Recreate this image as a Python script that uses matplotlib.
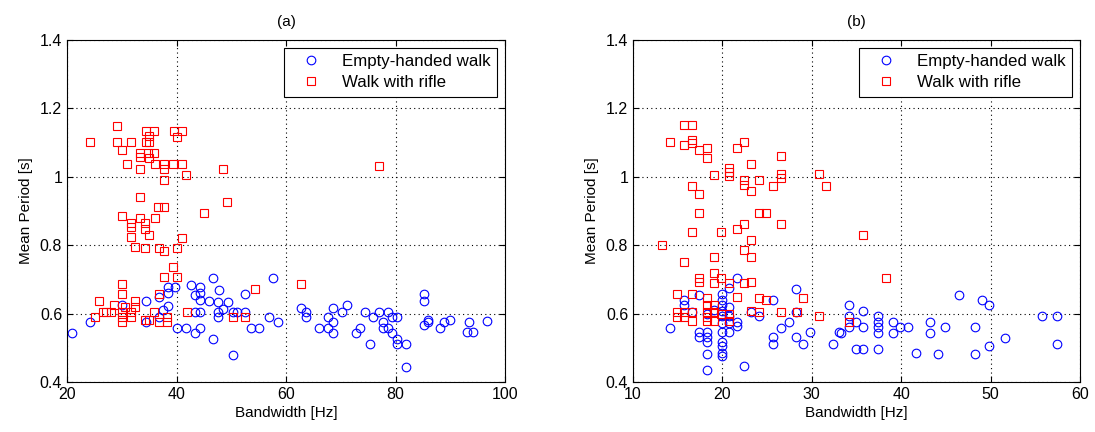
import matplotlib
matplotlib.use("Agg")
import matplotlib.pyplot as plt
import numpy as np

plt.rcParams['font.family'] = ['Liberation Sans', 'DejaVu Sans']

# ---------------- data: panel (a) ----------------
a_empty_bw = [20.9, 24.2, 30.1, 34.4, 34.4, 36.8, 36.8, 38.5, 38.5, 38.5, 37.6, 39.7, 40.0, 41.7,
              42.6, 43.4, 44.3, 44.3, 44.3, 43.4, 44.3, 43.4, 44.3, 46.0, 46.7, 47.8, 46.7, 47.6,
              47.6, 47.6, 48.5, 49.4, 50.3, 51.0, 50.3, 52.6, 52.6, 53.6, 55.1, 57.6, 56.9, 58.6,
              62.7, 63.6, 63.6, 66.0, 67.7, 67.7, 68.5, 68.5, 68.5, 70.2, 71.1, 72.7, 73.5, 74.4,
              75.3, 75.9, 77.0, 77.8, 77.7, 78.6, 78.6, 79.3, 80.3, 79.3, 80.3, 80.3, 82.0, 82.0,
              85.2, 85.2, 86.0, 86.0, 85.2, 88.1, 88.8, 90.0, 93.0, 93.5, 94.2, 96.8]
a_empty_mp = [0.544, 0.576, 0.625, 0.638, 0.576, 0.649, 0.591, 0.679, 0.659, 0.623, 0.611, 0.679, 0.557, 0.557,
              0.684, 0.654, 0.679, 0.659, 0.640, 0.606, 0.606, 0.544, 0.557, 0.638, 0.703, 0.669, 0.525, 0.633,
              0.606, 0.589, 0.613, 0.633, 0.606, 0.606, 0.479, 0.656, 0.606, 0.557, 0.557, 0.703, 0.591, 0.576,
              0.616, 0.606, 0.591, 0.557, 0.591, 0.557, 0.576, 0.544, 0.616, 0.606, 0.625, 0.544, 0.557, 0.606,
              0.511, 0.589, 0.606, 0.576, 0.557, 0.606, 0.557, 0.591, 0.591, 0.544, 0.525, 0.511, 0.511, 0.445,
              0.656, 0.638, 0.581, 0.576, 0.567, 0.557, 0.575, 0.580, 0.545, 0.575, 0.545, 0.578]

a_rifle_bw = [29.2, 24.2, 29.2, 31.7, 34.4, 35.9, 35.0, 34.4, 35.0, 30.1, 33.3, 34.8, 35.9, 33.3, 35.0,
              30.9, 33.3, 36.1, 37.7, 37.7, 39.4, 41.0, 39.6, 41.0, 40.0, 41.7, 48.5, 37.7, 33.3, 49.3,
              45.0, 36.6, 37.8, 30.1, 31.7, 33.3, 36.1, 31.7, 34.2, 34.2, 35.0, 31.7, 41.0, 32.5, 34.3,
              36.8, 37.7, 40.0, 39.4, 37.7, 40.0, 77.0,
              30.1, 30.1, 25.9, 28.5, 32.5, 32.5, 30.6, 26.5, 27.2, 28.0, 25.1, 30.1, 30.1, 30.1, 31.7,
              31.7, 34.2, 35.0, 35.9, 36.8, 36.8, 38.3, 38.3, 41.9, 50.4, 52.5, 54.3, 62.7]
a_rifle_mp = [1.149, 1.102, 1.102, 1.102, 1.135, 1.135, 1.119, 1.102, 1.102, 1.078, 1.070, 1.070, 1.070, 1.059, 1.054,
              1.037, 1.022, 1.037, 1.037, 1.022, 1.037, 1.037, 1.135, 1.135, 1.117, 1.004, 1.022, 0.991, 0.942, 0.925,
              0.895, 0.911, 0.911, 0.886, 0.865, 0.879, 0.879, 0.852, 0.864, 0.847, 0.830, 0.823, 0.822, 0.796, 0.792,
              0.792, 0.782, 0.792, 0.735, 0.706, 0.706, 1.031,
              0.686, 0.656, 0.638, 0.625, 0.638, 0.620, 0.620, 0.606, 0.606, 0.606, 0.591, 0.606, 0.591, 0.575, 0.606,
              0.589, 0.581, 0.581, 0.606, 0.656, 0.575, 0.591, 0.575, 0.606, 0.591, 0.591, 0.671, 0.686]

# ---------------- data: panel (b) ----------------
b_empty_bw = [21.6, 20.77, 19.92, 17.42, 19.92, 15.74, 15.74, 25.70, 28.23, 19.92, 20.77, 16.57, 19.92, 19.92,
              20.77, 24.13, 23.2, 28.23, 27.45, 26.55, 21.60, 21.60, 20.77, 20.77, 19.92, 19.92, 19.92, 19.92,
              19.92, 19.92, 17.42, 17.42, 18.24, 18.24, 18.24, 18.24, 18.24, 14.14, 22.42, 29.8, 28.23, 29.05,
              25.70, 25.70, 32.4, 33.04, 46.5, 49.07, 49.85, 55.7, 57.46, 57.46, 34.16, 35.76, 34.16, 34.94,
              34.16, 35.76, 33.23, 34.94, 35.69, 37.44, 37.44, 37.44, 37.44, 37.44, 39.05, 39.05, 39.87, 40.80,
              41.62, 43.2, 43.2, 44.08, 44.93, 48.2, 48.2, 49.85, 51.6, 18.24, 19.06]
b_empty_mp = [0.705, 0.674, 0.657, 0.655, 0.640, 0.640, 0.625, 0.640, 0.671, 0.625, 0.620, 0.604, 0.608, 0.593,
              0.593, 0.593, 0.606, 0.606, 0.576, 0.559, 0.576, 0.564, 0.572, 0.547, 0.572, 0.547, 0.518, 0.505,
              0.484, 0.476, 0.547, 0.532, 0.547, 0.532, 0.518, 0.482, 0.435, 0.559, 0.447, 0.547, 0.531, 0.511,
              0.531, 0.511, 0.511, 0.547, 0.655, 0.640, 0.625, 0.593, 0.593, 0.511, 0.625, 0.609, 0.593, 0.576,
              0.560, 0.560, 0.544, 0.496, 0.496, 0.593, 0.576, 0.560, 0.544, 0.496, 0.576, 0.544, 0.560, 0.560,
              0.486, 0.576, 0.544, 0.482, 0.560, 0.560, 0.482, 0.506, 0.530, 0.600, 0.610]

b_rifle_bw = [15.70, 16.57, 14.14, 15.70, 16.57, 16.57, 17.42, 18.24, 18.24, 21.60, 22.42, 23.20, 26.55, 20.77,
              20.77, 20.77, 19.06, 22.42, 22.42, 24.13, 23.22, 25.70, 26.55, 26.55, 30.80, 31.58, 16.57, 17.42,
              17.42, 24.05, 24.87, 16.57, 19.88, 21.60, 22.42, 26.55, 23.20, 13.21, 22.42, 23.22, 19.06, 15.70,
              19.06, 17.42, 17.42, 19.88, 19.06, 20.74, 22.42, 23.22, 24.05, 14.96, 16.57, 21.60, 29.05, 18.24,
              24.87, 18.24, 19.06, 14.96, 14.96, 15.70, 15.70, 16.57, 16.57, 18.24, 18.24, 18.24, 19.06, 19.06,
              19.88, 20.77, 20.77, 23.20, 24.05, 26.55, 28.30, 30.80, 35.76, 38.26, 34.16]
b_rifle_mp = [1.151, 1.151, 1.103, 1.094, 1.108, 1.098, 1.078, 1.085, 1.054, 1.083, 1.103, 1.037, 1.061, 1.025,
              1.015, 1.003, 1.006, 0.991, 0.976, 0.991, 0.959, 0.973, 1.008, 0.996, 1.008, 0.973, 0.973, 0.949,
              0.895, 0.895, 0.895, 0.838, 0.838, 0.847, 0.862, 0.862, 0.815, 0.800, 0.786, 0.766, 0.766, 0.751,
              0.718, 0.705, 0.693, 0.705, 0.689, 0.690, 0.690, 0.693, 0.645, 0.656, 0.656, 0.649, 0.645, 0.645,
              0.640, 0.625, 0.625, 0.606, 0.591, 0.606, 0.591, 0.606, 0.578, 0.606, 0.591, 0.578, 0.606, 0.578,
              0.600, 0.598, 0.578, 0.608, 0.606, 0.606, 0.606, 0.593, 0.830, 0.703, 0.576]

labels = ["Empty-handed walk", "Walk with rifle"]
titles = ["(a)", "(b)"]
xlims = [(20, 100), (10, 60)]
xticks = [[20, 40, 60, 80, 100], [10, 20, 30, 40, 50, 60]]
yticks = [0.4, 0.6, 0.8, 1.0, 1.2, 1.4]
ytick_labels = ["0.4", "0.6", "0.8", "1", "1.2", "1.4"]

fig = plt.figure(figsize=(10.95, 4.32), dpi=100)
ax_a = fig.add_axes([67/1095, 1-382/432, 438/1095, 342/432])
ax_b = fig.add_axes([633/1095, 1-382/432, 447/1095, 342/432])

panels = [(ax_a, a_empty_bw, a_empty_mp, a_rifle_bw, a_rifle_mp),
          (ax_b, b_empty_bw, b_empty_mp, b_rifle_bw, b_rifle_mp)]

fs = 11
for i, (ax, ebw, emp, rbw, rmp) in enumerate(panels):
    ax.plot(ebw, emp, linestyle='none', marker='o', markersize=6.2, markerfacecolor='none',
            markeredgecolor='#0000ff', markeredgewidth=0.8, label=labels[0])
    ax.plot(rbw, rmp, linestyle='none', marker='s', markersize=5.6, markerfacecolor='none',
            markeredgecolor='#ff0000', markeredgewidth=0.8, label=labels[1])
    ax.set_xlim(*xlims[i])
    ax.set_ylim(0.4, 1.4)
    ax.set_xticks(xticks[i])
    ax.set_yticks(yticks)
    ax.set_yticklabels(ytick_labels)
    ax.grid(True, linestyle=(0, (1, 3)), color='black', linewidth=0.8)
    ax.tick_params(direction='in', labelsize=11.5, length=4, top=True, right=True)
    for s in ax.spines.values():
        s.set_linewidth(0.8)
    ax.set_xlabel("Bandwidth [Hz]", fontsize=fs, labelpad=3)
    ax.set_ylabel("Mean Period [s]", fontsize=fs, labelpad=5)
    ax.set_title(titles[i], fontsize=fs, pad=10)
    leg = ax.legend(loc='upper right', fontsize=12.2, fancybox=False, edgecolor='black',
                    framealpha=1, borderaxespad=0.45, handlelength=2.4, handletextpad=0.6,
                    borderpad=0.4, labelspacing=0.35)
    leg.get_frame().set_linewidth(0.8)

fig.savefig("out.png", dpi=100)
